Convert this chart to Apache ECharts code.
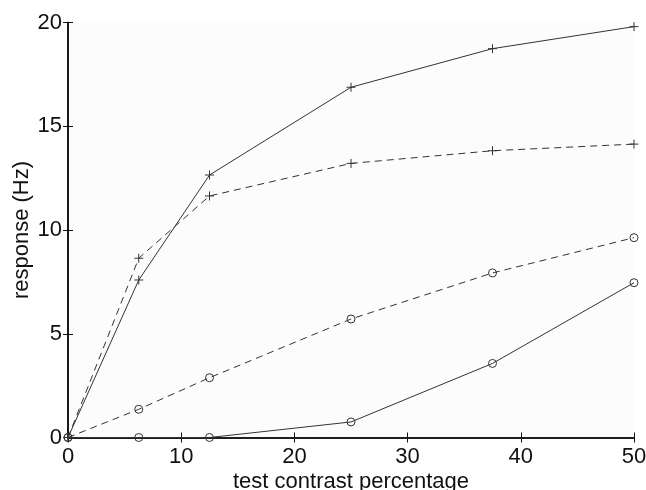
<!DOCTYPE html>
<html>
<head>
<meta charset="utf-8">
<script src="https://cdn.jsdelivr.net/npm/echarts@6/dist/echarts.min.js"></script>
<style>
html, body { margin: 0; padding: 0; background: #fff; }
#chart { width: 646px; height: 490px; }
</style>
</head>
<body>
<div id="chart"></div>
<script>
// x 值：测试对比度百分比
var contrast = [0, 6.25, 12.5, 25, 37.5, 50];
// 四条曲线（响应 Hz）
var solidPlus = [0, 7.59, 12.65, 16.88, 18.74, 19.8];
var dashedPlus = [0, 8.64, 11.64, 13.21, 13.82, 14.14];
var dashedCircle = [0, 1.36, 2.88, 5.71, 7.93, 9.63];
var solidCircle = [0, 0, 0, 0.75, 3.57, 7.46];
var xTicks = [0, 10, 20, 30, 40, 50];
var yTicks = [0, 5, 10, 15, 20];

var plusSymbol = 'path://M5,0L5,10M0,5L10,5';
var circleSymbol = 'path://M10,5A5,5 0 1 1 0,5A5,5 0 1 1 10,5Z';
var lineColor = '#333';
var fontName = '"Liberation Sans", Arial, sans-serif';

function pairs(ys) {
  return contrast.map(function (x, i) { return [x, ys[i]]; });
}

function makeSeries(name, ys, dashed, symbol) {
  return {
    name: name,
    type: 'line',
    data: pairs(ys),
    xAxisIndex: 0,
    yAxisIndex: 0,
    symbol: symbol,
    symbolSize: symbol === circleSymbol ? 8 : 9,
    showAllSymbol: true,
    lineStyle: { color: lineColor, width: 1, type: dashed ? [7, 5] : 'solid' },
    itemStyle: { color: 'none', borderColor: lineColor, borderWidth: 1 },
    emphasis: { disabled: true },
    animation: false,
    z: 3
  };
}

var myChart = echarts.init(document.getElementById('chart'));
var axisLine = { show: true, lineStyle: { color: '#111', width: 1.6 } };
var tick = { show: true, inside: true, length: 5, lineStyle: { color: '#111', width: 1 } };

var option = {
  backgroundColor: '#fff',
  animation: false,
  grid: {
    left: 68, right: 12, top: 22.5, bottom: 52.5,
    containLabel: false, outerBoundsMode: 'none',
    show: true, backgroundColor: '#fcfcfc', borderWidth: 0
  },
  xAxis: [{
    type: 'value', min: 0, max: 50, interval: 10,
    position: 'bottom',
    name: 'test contrast percentage',
    nameLocation: 'middle', nameGap: 33, nameMoveOverlap: false,
    nameTextStyle: { color: '#111', fontSize: 22, fontFamily: fontName },
    axisLine: axisLine, axisTick: tick,
    axisLabel: { color: '#111', fontSize: 22, fontFamily: fontName, margin: 8,
      formatter: function (v) { return xTicks.indexOf(v) >= 0 ? String(v) : ''; } },
    splitLine: { show: false }
  }, {
    type: 'value', min: 0, max: 50, interval: 10,
    position: 'top',
    axisLine: axisLine, axisTick: tick,
    axisLabel: { show: false }, splitLine: { show: false }
  }],
  yAxis: [{
    type: 'value', min: 0, max: 20, interval: 5,
    position: 'left',
    name: 'response (Hz)',
    nameLocation: 'middle', nameGap: 35, nameRotate: 90, nameMoveOverlap: false,
    nameTextStyle: { color: '#111', fontSize: 22, fontFamily: fontName },
    axisLine: axisLine, axisTick: tick,
    axisLabel: { color: '#111', fontSize: 22, fontFamily: fontName, margin: 6,
      formatter: function (v) { return yTicks.indexOf(v) >= 0 ? String(v) : ''; } },
    splitLine: { show: false }
  }, {
    type: 'value', min: 0, max: 20, interval: 5,
    position: 'right',
    axisLine: axisLine, axisTick: tick,
    axisLabel: { show: false }, splitLine: { show: false }
  }],
  series: [
    makeSeries('solid +', solidPlus, false, plusSymbol),
    makeSeries('dashed +', dashedPlus, true, plusSymbol),
    makeSeries('dashed o', dashedCircle, true, circleSymbol),
    makeSeries('solid o', solidCircle, false, circleSymbol)
  ]
};
myChart.setOption(option);
</script>
</body>
</html>
